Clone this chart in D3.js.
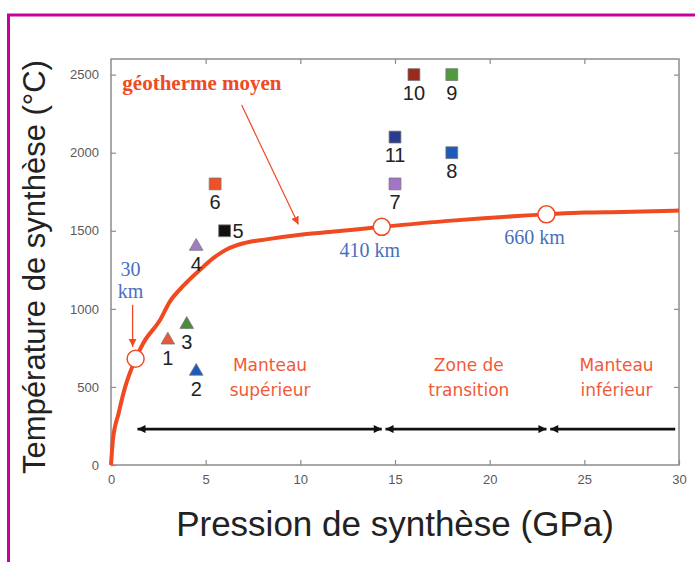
<!DOCTYPE html>
<html>
<head>
<meta charset="utf-8">
<script src="https://cdn.jsdelivr.net/npm/d3@7"></script>
<style>
body{margin:0;background:#fff;}
svg{display:block;}
</style>
</head>
<body>
<div class="canvas"></div>
<script>
// samples (pression GPa / température °C)
const sampleNames=['1','2','3','4','5','6','7','8','9','10','11'];
const samplePressure=[3,4.5,4,4.5,6,5.5,15,18,18,16,15];
const sampleTemp=[800,600,900,1400,1500,1800,1800,2000,2500,2500,2100];
const sampleShape=['tri','tri','tri','tri','sq','sq','sq','sq','sq','sq','sq'];

// géotherme moyen
const geoP=[0,0.1,0.4,0.75,1.3,1.7,2.6,3.1,3.8,4.7,5.4,6.1,7,8.2,10,11.8,14.3,18,23,25,27,30];
const geoT=[0,160,330,500,680,780,930,1045,1145,1250,1325,1380,1420,1445,1475,1495,1525,1565,1605,1617,1620,1630];

// profondeurs
const depthNames=['30 km','410 km','660 km'];
const depthP=[1.3,14.3,23];
const depthT=[680,1525,1605];

// zones du manteau
const zoneNames=[['Manteau','supérieur'],['Zone de','transition'],['Manteau','inférieur']];
const zoneStart=[1.4,14.5,23.2];
const zoneEnd=[14.3,23,29.8];

const xTicks=[0,5,10,15,20,25,30];
const yTicks=[0,500,1000,1500,2000,2500];

const colours=['#e8583a','#1b5bc0','#4a8c3c','#a07cc2','#111111','#ee5028','#a574c8','#1e5ab8','#4f9a3f','#9a2a1a','#2b3c8c'];
const red='#f04a22';
const blue='#4a6fc0';

const dims={width:695,height:562};
const svg=d3.select('.canvas')
      .append('svg')
      .attr('width',dims.width)
      .attr('height',dims.height);

// magenta page border
svg.append('line').attr('x1',7).attr('x2',695).attr('y1',15).attr('y2',15)
   .attr('stroke','#c8009c').attr('stroke-width',3);
svg.append('line').attr('x1',8.5).attr('x2',8.5).attr('y1',14).attr('y2',562)
   .attr('stroke','#c8009c').attr('stroke-width',3);

const x=d3.scaleLinear().domain([0,30]).range([111,679]);
const y=d3.scaleLinear().domain([0,2600]).range([465,59]);

// arrow heads
const defs=svg.append('defs');
const mk=(id,col,w,h)=>{
  defs.append('marker').attr('id',id)
     .attr('viewBox','0 0 10 10').attr('refX',10).attr('refY',5)
     .attr('markerWidth',w).attr('markerHeight',h)
     .attr('markerUnits','userSpaceOnUse')
     .attr('orient','auto-start-reverse')
     .append('path').attr('d','M0,0L10,5L0,10Z').attr('fill',col);
};
mk('blackHead','#111',9,8);
mk('redHead',red,8,8);

// frame + axes (ticks inward)
const frame=svg.append('g');
frame.append('rect')
     .attr('x',x(0)).attr('y',y(2600))
     .attr('width',x(30)-x(0)).attr('height',y(0)-y(2600))
     .attr('fill','none').attr('stroke','#8c8c8c').attr('stroke-width',1.5);

const axisStyle=g=>{
  g.select('.domain').remove();
  g.selectAll('.tick line').attr('stroke','#8c8c8c').attr('stroke-width',1.2);
  g.selectAll('.tick text').attr('fill','#5a5a5a').attr('font-family','Arial, Liberation Sans, sans-serif')
   .attr('font-size',13);
};
svg.append('g').attr('transform',`translate(0,${y(0)})`)
   .call(d3.axisBottom(x).tickValues(xTicks).tickFormat(d3.format('d')).tickSizeInner(-5).tickPadding(10))
   .call(axisStyle);
svg.append('g').attr('transform',`translate(${x(0)},0)`)
   .call(d3.axisLeft(y).tickValues(yTicks).tickFormat(d3.format('d')).tickSizeInner(-5).tickPadding(12))
   .call(axisStyle);
svg.append('g').attr('transform',`translate(0,${y(2600)})`)
   .call(d3.axisTop(x).tickValues(xTicks.slice(1,-1)).tickSizeInner(-5).tickFormat(''))
   .call(axisStyle);
svg.append('g').attr('transform',`translate(${x(30)},0)`)
   .call(d3.axisRight(y).tickValues(yTicks.slice(1)).tickSizeInner(-5).tickFormat(''))
   .call(axisStyle);

// axis titles
svg.append('text')
   .attr('transform',`translate(45,267) rotate(-90)`)
   .attr('text-anchor','middle')
   .attr('font-family','Arial, Liberation Sans, sans-serif')
   .attr('font-size',31).attr('fill','#222')
   .text('Température de synthèse (°C)');
svg.append('text')
   .attr('x',395).attr('y',536)
   .attr('text-anchor','middle')
   .attr('font-family','Arial, Liberation Sans, sans-serif')
   .attr('font-size',35).attr('fill','#222')
   .text('Pression de synthèse (GPa)');

const plot=svg.append('g');

// zone arrows
zoneStart.forEach((s,i)=>{
  plot.append('line')
      .attr('x1',x(s)).attr('x2',x(zoneEnd[i]))
      .attr('y1',y(230)).attr('y2',y(230))
      .attr('stroke','#111').attr('stroke-width',2.6)
      .attr('marker-start','url(#blackHead)')
      .attr('marker-end',i<2?'url(#blackHead)':null);
});

// zone labels
zoneNames.forEach((lines,i)=>{
  const cx=x([8.4,18.9,26.7][i]);
  const t=plot.append('text')
      .attr('text-anchor','middle')
      .attr('font-family','"Comic Sans MS", "DejaVu Sans", sans-serif')
      .attr('font-size',17).attr('fill','#f05a38');
  lines.forEach((l,j)=>{
    t.append('tspan').attr('x',cx).attr('y',y(600)+j*25).text(l);
  });
});

// géotherme
const line=d3.line().x((d,i)=>x(geoP[i])).y((d,i)=>y(geoT[i])).curve(d3.curveMonotoneX);
plot.append('path')
    .attr('d',line(geoP))
    .attr('fill','none').attr('stroke',red).attr('stroke-width',4)
    .attr('stroke-linejoin','round');

plot.selectAll('circle.depth')
    .data(depthP)
    .enter().append('circle')
    .attr('class','depth')
    .attr('cx',d=>x(d)).attr('cy',(d,i)=>y(depthT[i]))
    .attr('r',8.5)
    .attr('fill','#fff').attr('stroke',red).attr('stroke-width',1.5);

// depth labels
const serif='"Liberation Serif", "Times New Roman", serif';
const d30=plot.append('text').attr('text-anchor','middle')
    .attr('font-family',serif).attr('font-size',20).attr('fill',blue);
d30.append('tspan').attr('x',x(depthP[0])-5).attr('y',y(depthT[0])-83).text(depthNames[0].split(' ')[0]);
d30.append('tspan').attr('x',x(depthP[0])-5).attr('y',y(depthT[0])-61).text(depthNames[0].split(' ')[1]);
plot.append('line')
    .attr('x1',x(depthP[0])-3).attr('x2',x(depthP[0])-3)
    .attr('y1',y(depthT[0])-54).attr('y2',y(depthT[0])-12)
    .attr('stroke',red).attr('stroke-width',1.3)
    .attr('marker-end','url(#redHead)');
[1,2].forEach(i=>{
  plot.append('text')
      .attr('x',x(depthP[i])-12).attr('y',y(depthT[i])+30)
      .attr('text-anchor','middle')
      .attr('font-family',serif).attr('font-size',20).attr('fill',blue)
      .text(depthNames[i]);
});

// géotherme moyen label + arrow
plot.append('text')
    .attr('x',x(0.6)).attr('y',y(2400))
    .attr('font-family',serif).attr('font-weight','bold')
    .attr('font-size',21).attr('fill',red)
    .text('géotherme moyen');
plot.append('line')
    .attr('x1',x(6.9)).attr('y1',y(2305))
    .attr('x2',x(9.9)).attr('y2',y(1540))
    .attr('stroke',red).attr('stroke-width',1.2)
    .attr('marker-end','url(#redHead)');

// samples
const sym=d3.symbol();
const pts=plot.selectAll('g.sample')
    .data(sampleNames)
    .enter().append('g')
    .attr('class','sample')
    .attr('transform',(d,i)=>`translate(${x(samplePressure[i])},${y(sampleTemp[i])})`);
pts.append('path')
   .attr('d',(d,i)=>sampleShape[i]=='tri'
        ? sym.type(d3.symbolTriangle).size(80)()
        : sym.type(d3.symbolSquare).size(140)())
   .attr('fill',(d,i)=>colours[i])
   .attr('stroke','#777').attr('stroke-width',0.8);
pts.append('text')
   .attr('x',d=>d=='5'?8:0)
   .attr('y',d=>d=='5'?7:25)
   .attr('text-anchor',d=>d=='5'?'start':'middle')
   .attr('font-family','Arial, Liberation Sans, sans-serif')
   .attr('font-size',20).attr('fill','#222')
   .text(d=>d);
</script>
</body>
</html>
